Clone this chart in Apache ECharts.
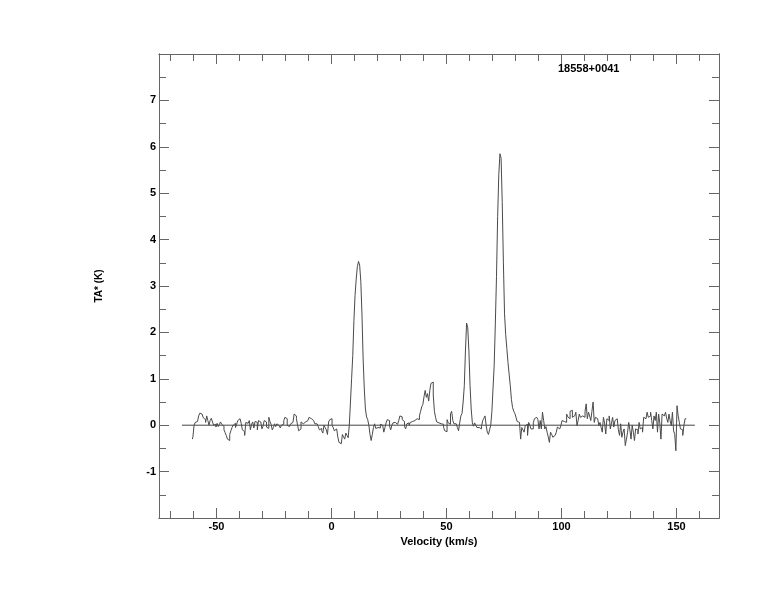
<!DOCTYPE html>
<html>
<head>
<meta charset="utf-8">
<script src="https://cdn.jsdelivr.net/npm/echarts@6/dist/echarts.min.js"></script>
<style>
html,body{margin:0;padding:0;background:#fff;}
#chart{width:774px;height:612px;}
</style>
</head>
<body>
<div id="chart"></div>
<script>
// Spectrum: channel velocity axis (km/s) and antenna temperature TA* (K)
const velStart = -60.5;
const chanWidth = 0.5;
const tempK = [
  -0.30,-0.25,0.00,0.06,0.08,0.06,0.20,0.26,0.27,0.24,
  0.16,0.12,0.06,0.20,0.10,0.00,0.10,0.15,0.07,0.00,
  0.02,-0.04,0.04,-0.03,-0.04,0.07,0.02,-0.02,-0.10,-0.16,
  -0.22,-0.30,-0.33,-0.20,-0.12,-0.05,0.00,0.04,-0.05,0.02,
  0.10,0.14,0.10,0.04,-0.10,-0.14,-0.22,0.06,0.04,0.08,
  0.10,-0.10,0.02,0.07,-0.06,0.08,0.06,-0.10,0.10,0.07,
  0.06,-0.08,-0.02,0.10,0.07,-0.04,-0.07,0.17,0.08,0.02,
  -0.10,-0.05,0.03,-0.03,0.03,0.02,-0.01,-0.06,0.00,0.02,
  0.10,0.17,0.14,0.00,-0.03,-0.06,0.03,0.06,0.10,0.24,
  0.20,0.14,0.00,-0.12,-0.08,0.07,0.03,0.05,0.07,0.03,
  0.10,0.12,0.17,0.14,0.13,0.10,0.06,0.03,0.03,0.00,
  -0.03,-0.10,-0.07,-0.12,-0.17,0.00,-0.05,-0.10,-0.20,0.07,
  0.12,0.14,0.00,-0.05,-0.12,-0.08,-0.10,-0.25,-0.37,-0.40,
  -0.44,-0.20,-0.25,-0.30,-0.17,-0.22,-0.27,0.00,0.50,1.00,
  1.50,2.25,2.80,3.15,3.42,3.53,3.45,3.10,2.40,1.45,
  0.80,0.35,0.18,0.12,0.00,-0.20,-0.33,-0.20,-0.05,0.03,
  -0.07,-0.05,-0.08,-0.06,0.02,0.00,-0.03,-0.15,-0.05,0.05,
  0.12,0.10,-0.02,-0.10,0.00,0.05,0.04,0.06,0.02,0.05,
  0.10,0.20,0.18,0.12,0.08,-0.03,-0.08,0.03,0.05,0.00,
  0.06,0.08,0.12,0.10,0.12,0.14,0.10,0.12,0.20,0.30,
  0.40,0.45,0.62,0.75,0.60,0.68,0.52,0.75,0.90,0.93,
  0.65,0.30,0.17,0.07,0.05,0.08,0.03,0.06,0.02,-0.05,
  -0.12,-0.14,0.12,0.05,0.02,0.25,0.30,0.10,0.03,0.02,
  0.03,-0.05,-0.12,0.05,0.20,0.25,0.50,0.85,1.60,2.20,
  2.10,1.60,0.85,0.35,0.05,-0.02,0.05,0.00,-0.05,-0.05,
  -0.06,-0.08,-0.02,0.10,0.15,0.20,0.00,-0.15,-0.20,-0.10,
  0.00,0.30,0.80,1.30,2.20,3.20,4.50,5.40,5.85,5.75,
  4.80,3.50,2.40,1.95,1.65,1.35,1.10,0.85,0.55,0.38,
  0.30,0.25,0.17,0.08,0.06,0.10,-0.30,-0.05,-0.04,-0.15,
  -0.01,0.02,-0.22,0.06,0.00,-0.08,-0.08,0.05,0.14,0.17,
  0.17,0.12,-0.08,0.10,-0.08,0.28,0.10,-0.08,-0.03,-0.15,
  -0.25,-0.37,-0.15,-0.20,-0.26,-0.22,-0.18,-0.15,-0.04,-0.08,
  -0.05,-0.01,0.10,0.08,0.10,0.06,0.24,0.18,0.14,0.30,
  0.32,0.17,0.20,0.22,0.28,-0.01,0.10,0.24,0.17,0.20,
  0.24,0.17,0.30,0.46,0.14,0.28,0.20,0.10,0.30,0.50,
  0.06,0.17,0.14,0.10,-0.01,0.06,-0.05,-0.15,0.17,0.05,
  -0.19,0.14,0.10,0.20,-0.08,0.05,0.17,-0.04,0.10,0.14,
  0.17,-0.10,-0.22,0.03,-0.26,-0.15,-0.08,-0.44,-0.30,-0.15,
  0.06,-0.10,-0.30,0.00,-0.15,-0.33,-0.08,-0.10,-0.19,0.06,
  -0.08,-0.05,-0.15,0.17,0.14,0.10,0.28,0.17,0.20,0.28,
  0.10,-0.08,0.20,0.10,0.28,-0.15,0.24,0.05,-0.30,0.24,
  0.20,0.17,0.28,0.15,0.06,0.24,0.10,-0.01,0.28,-0.12,
  -0.20,-0.55,0.42,0.20,0.06,-0.08,-0.10,-0.22,0.00,0.14,
  0.14
];
const xMajorTicks = [-50, 0, 50, 100, 150];
const xMinorTicks = [-70,-60,-40,-30,-20,-10,10,20,30,40,60,70,80,90,110,120,130,140,160];
const yMajorTicks = [-2,-1,0,1,2,3,4,5,6,7,8];
const yTickLabels = [-1,0,1,2,3,4,5,6,7];
const yMinorTicks = [-1.5,-0.5,0.5,1.5,2.5,3.5,4.5,5.5,6.5,7.5];
const baselineX = [-65, 158];
const sourceName = '18558+0041';
const xTitle = 'Velocity (km/s)';
const yTitle = 'TA* (K)';

const specData = tempK.map((t, i) => [velStart + i * chanWidth, t]);
const baseData = baselineX.map(v => [v, 0]);

const FONT = 'Liberation Sans';
const AX = '#666';
const X_MIN = -75, X_MAX = 168.5, Y_MIN = -2, Y_MAX = 8;

function mkAxis(pos, min, max, ticks, len, labels) {
  return {
    type: 'value', position: pos, min: min, max: max,
    axisLine: { show: true, onZero: false, lineStyle: { color: AX, width: 1 } },
    axisTick: { show: true, inside: true, length: len, customValues: ticks, lineStyle: { color: AX, width: 1 } },
    axisLabel: labels ? { show: true, customValues: labels, margin: 3, color: '#000', fontFamily: FONT, fontWeight: 'bold', fontSize: 11 } : { show: false },
    splitLine: { show: false }
  };
}

const xAxes = [
  mkAxis('bottom', X_MIN, X_MAX, xMajorTicks, 10, xMajorTicks),
  mkAxis('bottom', X_MIN, X_MAX, xMinorTicks, 7, null),
  mkAxis('top', X_MIN, X_MAX, xMajorTicks, 10, null),
  mkAxis('top', X_MIN, X_MAX, xMinorTicks, 7, null)
];
Object.assign(xAxes[0], {
  name: xTitle, nameLocation: 'middle', nameGap: 12,
  nameTextStyle: { color: '#000', fontFamily: FONT, fontWeight: 'bold', fontSize: 11 }
});
const yAxes = [
  mkAxis('left', Y_MIN, Y_MAX, yMajorTicks, 10, yTickLabels),
  mkAxis('left', Y_MIN, Y_MAX, yMinorTicks, 7, null),
  mkAxis('right', Y_MIN, Y_MAX, yMajorTicks, 10, null),
  mkAxis('right', Y_MIN, Y_MAX, yMinorTicks, 7, null)
];
Object.assign(yAxes[0], {
  name: yTitle, nameLocation: 'middle', nameGap: 55,
  nameTextStyle: { color: '#000', fontFamily: FONT, fontWeight: 'bold', fontSize: 10 }
});

const chart = echarts.init(document.getElementById('chart'));
chart.setOption({
  animation: false,
  backgroundColor: '#fff',
  title: {
    text: sourceName, left: 553, top: 58,
    textStyle: { color: '#000', fontFamily: FONT, fontWeight: 'bold', fontSize: 11 }
  },
  grid: { left: 159, right: 55, top: 54, bottom: 94, containLabel: false },
  xAxis: xAxes,
  yAxis: yAxes,
  series: [
    {
      type: 'line', data: baseData, xAxisIndex: 0, yAxisIndex: 0,
      showSymbol: false, symbol: 'none',
      lineStyle: { color: '#444', width: 1 }, z: 1
    },
    {
      type: 'line', data: specData, xAxisIndex: 0, yAxisIndex: 0,
      step: 'middle', showSymbol: false, symbol: 'none',
      lineStyle: { color: '#4a4a4a', width: 1 }, z: 2
    }
  ]
});
</script>
</body>
</html>
